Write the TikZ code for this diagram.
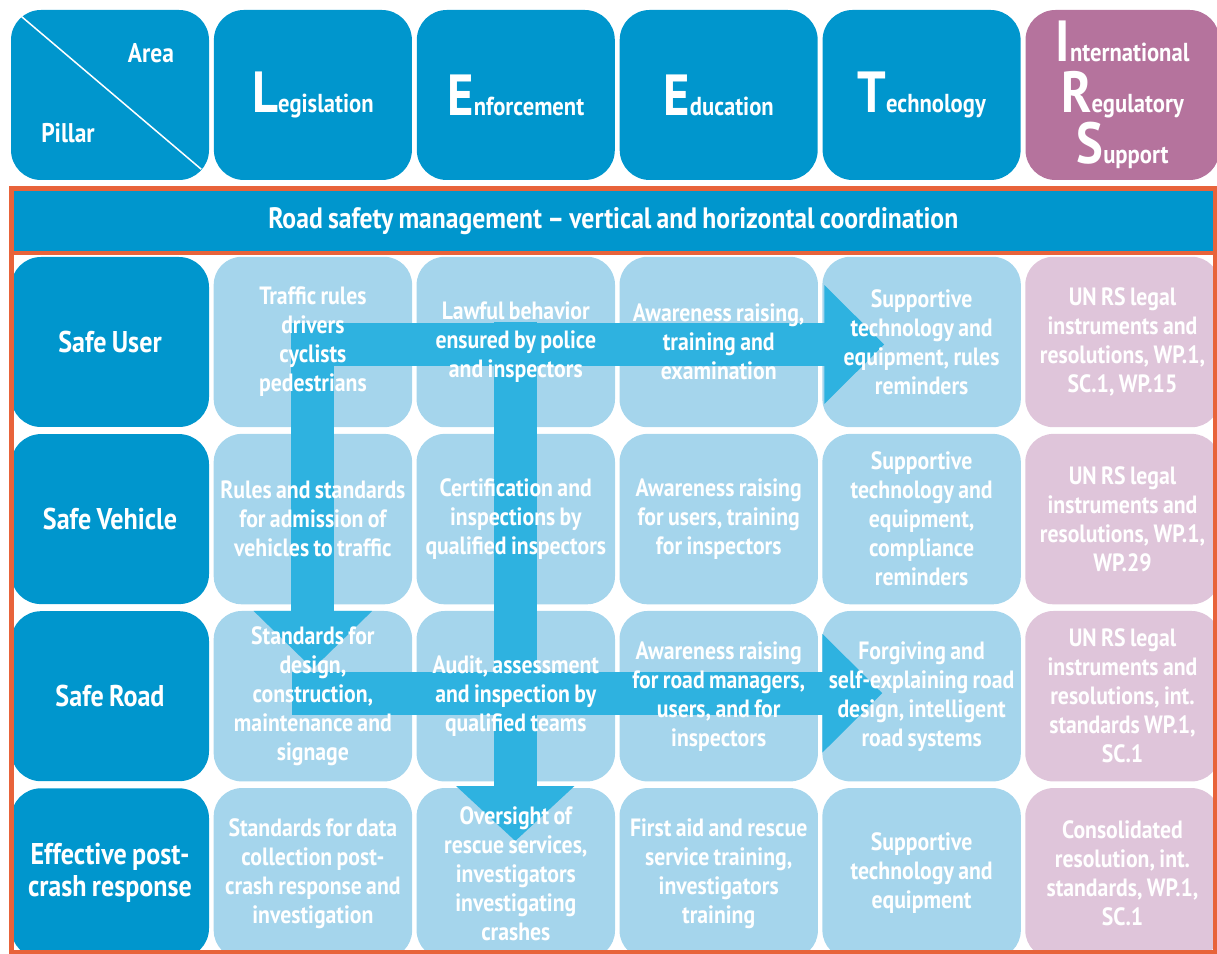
\documentclass[tikz,border=0pt]{standalone}
\usepackage{fontspec}
\setmainfont{PT Sans}[FakeStretch=0.87, WordSpace=0.8]
\usetikzlibrary{positioning,arrows.meta}

\definecolor{pillarblue}{HTML}{0096CD}
\definecolor{cellblue}{HTML}{A5D5EC}
\definecolor{irspink}{HTML}{B5739D}
\definecolor{cellpink}{HTML}{DFC5DA}
\definecolor{flowblue}{HTML}{2EB2E0}
\definecolor{frameorange}{HTML}{E8633A}

\pgfdeclarelayer{cellfill}
\pgfdeclarelayer{flow}
\pgfsetlayers{cellfill,flow,main}

\newcommand{\bigini}[1]{{\fontsize{58}{58}\selectfont #1}}

\begin{document}
\begin{tikzpicture}[
    x=1pt, y=1pt,
    head/.style={rectangle, rounded corners=30pt, fill=pillarblue, text=white, minimum width=198pt, minimum height=170pt, inner sep=0pt, align=center, font=\bfseries\fontsize{26}{30}\selectfont},
    pillar/.style={head, font=\bfseries\fontsize{30}{32}\selectfont},
    cell/.style={rectangle, minimum width=198pt, minimum height=170pt, inner sep=0pt, text width=192pt, align=flush center, text=white, font=\bfseries\fontsize{25}{29}\selectfont},
    irscell/.style={cell, minimum width=194pt, text width=188pt},
    flow/.style={line width=43pt, flowblue, -{Triangle[width=115pt,length=60pt]}}
]
    \useasboundingbox (0,0) rectangle (1217,953);

    % header row
    \node[head] (corner) at (110,858) {};
    \node[head, right=4.5pt of corner] (law) {\bigini{L}egislation};
    \node[head, right=4.5pt of law] (enf) {\bigini{E}nforcement};
    \node[head, right=4.5pt of enf] (edu) {\bigini{E}ducation};
    \node[head, right=4.5pt of edu] (tech) {\bigini{T}echnology};
    \node[head, fill=irspink, minimum width=194pt, font=\bfseries\fontsize{26}{51}\selectfont, right=4.5pt of tech] (irs) {\bigini{I}nternational\\\bigini{R}egulatory\\\bigini{S}upport};
    \draw[white, line width=1.5pt] ([shift={(11,-7)}]corner.north west) -- ([shift={(-8,11)}]corner.south east);
    \node[text=white, font=\bfseries\fontsize{27}{30}\selectfont] (arealabel) at (151,900) {Area};
    \node[text=white, font=\bfseries\fontsize{27}{30}\selectfont] (pillarlabel) at (68,820) {Pillar};

    % management bar
    \node[rectangle, fill=pillarblue, draw=frameorange, line width=4.5pt, minimum width=1203.5pt, minimum height=64.5pt, inner sep=0pt, text=white, font=\bfseries\fontsize{29.5}{32}\selectfont] (coord) at (613.25,732.25) {Road safety management -- vertical and horizontal coordination};

    % pillars
    \node[pillar] (user) at (110,611) {Safe User};
    \node[pillar, below=6.7pt of user] (vehicle) {Safe Vehicle};
    \node[pillar, below=6.7pt of vehicle] (road) {Safe Road};
    \node[pillar, below=6.7pt of road] (crash) {Effective post-\\crash response};

    % safe user
    \node[cell, right=4.5pt of user] (userlaw) {Traffic rules\\drivers\\cyclists\\pedestrians};
    \node[cell, right=4.5pt of userlaw] (userenf) {Lawful behavior\\ensured by police\\and inspectors};
    \node[cell, right=4.5pt of userenf] (useredu) {Awareness raising,\\training and\\examination};
    \node[cell, right=4.5pt of useredu] (usertech) {Supportive\\technology and\\equipment, rules\\reminders};
    \node[irscell, right=4.5pt of usertech] (userirs) {UN RS legal\\instruments and\\resolutions, WP.1,\\SC.1, WP.15};

    % safe vehicle
    \node[cell, right=4.5pt of vehicle] (vehiclelaw) {Rules and standards\\for admission of\\vehicles to traffic};
    \node[cell, right=4.5pt of vehiclelaw] (vehicleenf) {Certification and\\inspections by\\qualified inspectors};
    \node[cell, right=4.5pt of vehicleenf] (vehicleedu) {Awareness raising\\for users, training\\for inspectors};
    \node[cell, right=4.5pt of vehicleedu] (vehicletech) {Supportive\\technology and\\equipment,\\compliance\\reminders};
    \node[irscell, right=4.5pt of vehicletech] (vehicleirs) {UN RS legal\\instruments and\\resolutions, WP.1,\\WP.29};

    % safe road
    \node[cell, right=4.5pt of road] (roadlaw) {Standards for\\design,\\construction,\\maintenance and\\signage};
    \node[cell, right=4.5pt of roadlaw] (roadenf) {Audit, assessment\\and inspection by\\qualified teams};
    \node[cell, right=4.5pt of roadenf] (roadedu) {Awareness raising\\for road managers,\\users, and for\\inspectors};
    \node[cell, right=4.5pt of roadedu] (roadtech) {Forgiving and\\self-explaining road\\design, intelligent\\road systems};
    \node[irscell, right=4.5pt of roadtech] (roadirs) {UN RS legal\\instruments and\\resolutions, int.\\standards WP.1,\\SC.1};

    % post-crash response
    \node[cell, right=4.5pt of crash] (crashlaw) {Standards for data\\collection post-\\crash response and\\investigation};
    \node[cell, right=4.5pt of crashlaw] (crashenf) {Oversight of\\rescue services,\\investigators\\investigating\\crashes};
    \node[cell, right=4.5pt of crashenf] (crashedu) {First aid and rescue\\service training,\\investigators\\training};
    \node[cell, right=4.5pt of crashedu] (crashtech) {Supportive\\technology and\\equipment};
    \node[irscell, right=4.5pt of crashtech] (crashirs) {Consolidated\\resolution, int.\\standards, WP.1,\\SC.1};

    \begin{pgfonlayer}{cellfill}
        \foreach \c in {userlaw,userenf,useredu,usertech,vehiclelaw,vehicleenf,vehicleedu,vehicletech,roadlaw,roadenf,roadedu,roadtech,crashlaw,crashenf,crashedu,crashtech}
            \fill[cellblue, rounded corners=28pt] (\c.south west) rectangle (\c.north east);
        \foreach \c in {userirs,vehicleirs,roadirs,crashirs}
            \fill[cellpink, rounded corners=28pt] (\c.south west) rectangle (\c.north east);
    \end{pgfonlayer}

    % flows
    \begin{pgfonlayer}{flow}
        \draw[flow] ([xshift=-21.5pt,yshift=-2.5pt]userlaw.center) -- ([xshift=62pt,yshift=-2.5pt]usertech.west);
        \draw[flow, -{Triangle[width=115pt,length=58pt]}] ([yshift=19pt]userlaw.center) -- ([yshift=-58pt]roadlaw.north);
        \draw[flow, -{Triangle[width=115pt,length=55pt]}] ([xshift=-0.5pt,yshift=20pt]userenf.center) -- ([xshift=-0.5pt,yshift=-53pt]crashenf.north);
        \draw[flow] ([xshift=-20.5pt,yshift=3pt]roadlaw.center) -- ([xshift=60pt,yshift=3pt]roadtech.west);
    \end{pgfonlayer}

    % outer frame
    \draw[frameorange, line width=4.5pt] (11.5,764.5) rectangle (1215,0.5);
\end{tikzpicture}
\end{document}
